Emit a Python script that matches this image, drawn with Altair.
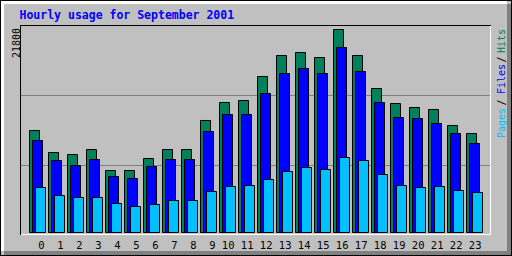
import altair as alt
import pandas as pd

# ---- data ----
hours = list(range(24))
hits = [10954, 8591, 8376, 8913, 6658, 6658, 7947, 8913, 8913, 12028, 13961, 14175,
        16753, 19008, 19330, 18793, 21800, 19008, 15464, 13853, 13424, 13209, 11491, 10632]
files = [9880, 7732, 7195, 7839, 6014, 5799, 7088, 7839, 7839, 10846, 12672, 12672,
         14927, 17075, 17612, 17075, 19867, 17290, 13961, 12350, 12242, 11705, 10632, 9558]
pages = [4833, 3973, 3759, 3759, 3114, 2792, 3007, 3436, 3436, 4403, 4940, 5047,
         5692, 6551, 6980, 6766, 8054, 7732, 6229, 5047, 4833, 4940, 4510, 4296]
series_names = ["Hits", "Files", "Pages"]
series_colors = ["#00805C", "#0000FF", "#00C0FF"]
y_max = 21800
grid_values = [7195, 14712]
title_text = "Hourly usage for September 2001"

rows = []
for k, (name, vals) in enumerate(zip(series_names, [hits, files, pages])):
    for h, v in zip(hours, vals):
        rows.append({"hour": h, "series": name, "k": k, "value": v})
bars_df = pd.DataFrame(rows)
one = pd.DataFrame({"a": [0]})

FONT = "DejaVu Sans Mono"
xsc = alt.Scale(domain=[0, 24], range=[29.5, 485.5], nice=False, zero=False)
ysc = alt.Scale(domain=[0, y_max], range=[232.5, 29.5], nice=False, zero=False)


def box(x1, x2, y1, y2, color):
    return alt.Chart(one).mark_rect(color=color).encode(
        x=alt.value(x1), x2=alt.value(x2), y=alt.value(y1), y2=alt.value(y2))


def hline(x1, x2, y, color):
    return alt.Chart(one).mark_rule(color=color, strokeWidth=1).encode(
        x=alt.value(x1), x2=alt.value(x2), y=alt.value(y))


def vline(x, y1, y2, color):
    return alt.Chart(one).mark_rule(color=color, strokeWidth=1).encode(
        x=alt.value(x), y=alt.value(y1), y2=alt.value(y2))


def label(text, x, y, color, size, angle=0, align="left", weight="normal"):
    return alt.Chart(one).mark_text(
        font=FONT, fontSize=size, fontWeight=weight, color=color,
        align=align, baseline="alphabetic", angle=angle
    ).encode(x=alt.value(x), y=alt.value(y), text=alt.value(text))


# outer bevel
bevel = [
    box(1, 507, 1, 4, "#FFFFFF"),
    box(1, 4, 1, 251, "#FFFFFF"),
    box(507, 511, 4, 255, "#808080"),
    box(4, 511, 251, 255, "#808080"),
    hline(0, 512, 0.5, "#000000"),
    hline(0, 512, 255.5, "#000000"),
    vline(0.5, 0, 256, "#000000"),
    vline(511.5, 0, 256, "#000000"),
]

grid = alt.Chart(pd.DataFrame({"v": grid_values})).mark_rule(
    color="#808080", strokeWidth=1
).encode(
    y=alt.Y("v:Q", scale=ysc, axis=None),
    x=alt.value(21), x2=alt.value(490),
)

bars = alt.Chart(bars_df).transform_calculate(
    xs="datum.hour + datum.k * 3 / 19",
    xe="datum.hour + datum.k * 3 / 19 + 10 / 19",
).mark_rect(stroke="#000000", strokeWidth=1).encode(
    x=alt.X("xs:Q", scale=xsc, axis=None),
    x2="xe:Q",
    y=alt.Y("value:Q", scale=ysc, axis=None),
    y2=alt.datum(0),
    color=alt.Color("series:N", scale=alt.Scale(domain=series_names, range=series_colors),
                    legend=None),
)

frame = [
    vline(490.5, 25, 235, "#FFFFFF"),
    hline(20, 491, 234.5, "#FFFFFF"),
    vline(20.5, 25, 235, "#000000"),
    hline(20, 491, 25.5, "#000000"),
]

hour_labels = alt.Chart(pd.DataFrame({"hour": hours})).mark_text(
    font=FONT, fontSize=10.5, color="#000000", align="right", baseline="alphabetic", dx=15
).encode(
    x=alt.X("hour:Q", scale=xsc, axis=None),
    y=alt.value(249),
    text=alt.Text("hour:Q", format="d"),
)

texts = [
    label(title_text, 19.5, 19, "#0000FF", 11.5, weight="bold"),
    label(f"{y_max}", 19.5, 28, "#000000", 10, angle=270, align="right"),
    label("Pages", 504.5, 138, series_colors[2], 10, angle=270),
    label("/", 504.5, 105.5, "#000000", 10, angle=270),
    label("Files", 504.5, 94, series_colors[1], 10, angle=270),
    label("/", 504.5, 62.5, "#000000", 10, angle=270),
    label("Hits", 504.5, 53, series_colors[0], 10, angle=270),
]

chart = alt.layer(*bevel, grid, bars, *frame, hour_labels, *texts).properties(
    width=512, height=256, padding=0,
    autosize=alt.AutoSizeParams(type="none"),
    background="#C0C0C0",
).configure_view(strokeWidth=0)

chart.save("out.html", embed_options={"renderer": "svg", "actions": False})
